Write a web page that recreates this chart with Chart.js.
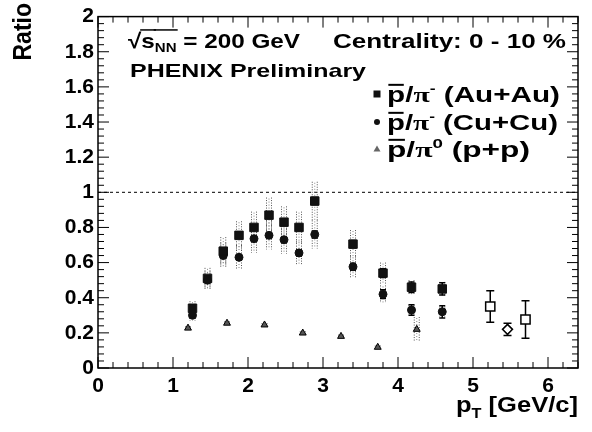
<!DOCTYPE html>
<html>
<head>
<meta charset="utf-8">
<script src="https://cdn.jsdelivr.net/npm/chart.js@4.4.1/dist/chart.umd.min.js"></script>
<style>
  html, body { margin: 0; padding: 0; background: #fff; }
</style>
</head>
<body>
<canvas id="ratioChart" width="592" height="432"></canvas>
<script>
// pbar/pi- Au+Au (filled squares)
const ptAuAu = [1.26, 1.46, 1.67, 1.88, 2.08, 2.28, 2.48, 2.68, 2.89, 3.40, 3.80, 4.18, 4.59];
const ratioAuAu = [0.34, 0.51, 0.665, 0.755, 0.80, 0.87, 0.83, 0.80, 0.95, 0.705, 0.54, 0.46, 0.45];
const statAuAu = [0.015, 0.012, 0.012, 0.012, 0.014, 0.015, 0.016, 0.018, 0.02, 0.02, 0.025, 0.03, 0.035];
const sysAuAu = [0.04, 0.06, 0.08, 0.08, 0.09, 0.10, 0.09, 0.09, 0.11, 0.08, 0.06, 0.04, 0.04];

// pbar/pi- Cu+Cu (filled circles)
const ptCuCu = [1.26, 1.46, 1.67, 1.88, 2.08, 2.28, 2.48, 2.68, 2.89, 3.40, 3.80, 4.18, 4.59];
const ratioCuCu = [0.30, 0.50, 0.64, 0.63, 0.736, 0.755, 0.73, 0.655, 0.76, 0.576, 0.42, 0.33, 0.32];
const statCuCu = [0.015, 0.012, 0.012, 0.012, 0.014, 0.015, 0.016, 0.018, 0.02, 0.02, 0.025, 0.03, 0.035];
const sysCuCu = [0.03, 0.05, 0.07, 0.07, 0.08, 0.08, 0.08, 0.07, 0.08, 0.06, 0.05, 0.03, 0.03];

// pbar/pi0 p+p (triangles)
const ptPP = [1.20, 1.72, 2.22, 2.73, 3.24, 3.73, 4.25];
const ratioPP = [0.227, 0.255, 0.245, 0.199, 0.18, 0.118, 0.22];
const sysPP = [0.01, 0.01, 0.01, 0.01, 0.01, 0.01, 0.07];

// high pT open points
const ptHighAuAu = [5.23, 5.70];
const ratioHighAuAu = [0.35, 0.276];
const errHighAuAu = [0.09, 0.107];
const ptHighCuCu = [5.46];
const ratioHighCuCu = [0.22];
const errHighCuCu = [0.035];

const xTicks = [0, 1, 2, 3, 4, 5, 6];
const yTicks = [0, 0.2, 0.4, 0.6, 0.8, 1, 1.2, 1.4, 1.6, 1.8, 2];

const SANS = "'Liberation Sans', Arial, sans-serif";
const SERIF = "'Liberation Serif', 'Times New Roman', serif";

function points(xs, ys) {
  return xs.map((x, i) => ({ x: x, y: ys[i] }));
}

// draws a run of text pieces, squeezed/stretched to fill a given width
function drawRich(ctx, parts, x, baseline, width, base) {
  ctx.save();
  let natural = 0;
  parts.forEach(p => {
    ctx.font = "bold " + (p.size || base) + "px " + (p.font || SANS);
    p.w = ctx.measureText(p.t).width;
    natural += p.w;
  });
  const sx = width / natural;
  ctx.translate(x, baseline);
  ctx.scale(sx, 1);
  ctx.fillStyle = "#000";
  ctx.strokeStyle = "#000";
  ctx.textBaseline = "alphabetic";
  ctx.textAlign = "left";
  let cx = 0;
  parts.forEach(p => {
    ctx.font = "bold " + (p.size || base) + "px " + (p.font || SANS);
    ctx.fillText(p.t, cx, p.dy || 0);
    if (p.bar) {
      ctx.lineWidth = 2;
      ctx.beginPath();
      ctx.moveTo(cx + 1, -base * 0.78);
      ctx.lineTo(cx + p.w - 1, -base * 0.78);
      ctx.stroke();
    }
    if (p.over) {
      ctx.lineWidth = 1.5;
      ctx.beginPath();
      ctx.moveTo(cx - 1, -base * 0.86);
      ctx.lineTo(cx + p.w + 1, -base * 0.86);
      ctx.stroke();
    }
    cx += p.w;
  });
  ctx.restore();
}

const physicsPlugin = {
  id: "physics",
  beforeDatasetsDraw(chart) {
    const ctx = chart.ctx;
    const xs = chart.scales.x;
    const ys = chart.scales.y;
    const area = chart.chartArea;

    // dashed line at ratio = 1
    ctx.save();
    ctx.strokeStyle = "#000";
    ctx.lineWidth = 1;
    ctx.setLineDash([3, 3]);
    ctx.beginPath();
    ctx.moveTo(area.left, ys.getPixelForValue(1));
    ctx.lineTo(area.right, ys.getPixelForValue(1));
    ctx.stroke();
    ctx.restore();

    // systematic bands (dotted boxes)
    chart.data.datasets.forEach(ds => {
      if (!ds.sys) return;
      ds.data.forEach((p, i) => {
        const px = xs.getPixelForValue(p.x);
        const top = ys.getPixelForValue(p.y + ds.sys[i]);
        const bot = ys.getPixelForValue(p.y - ds.sys[i]);
        ctx.save();
        ctx.strokeStyle = "#555";
        ctx.lineWidth = 1;
        ctx.setLineDash([1, 1.5]);
        ctx.beginPath();
        ctx.moveTo(px - 2.5, top);
        ctx.lineTo(px - 2.5, bot);
        ctx.moveTo(px + 2.5, top);
        ctx.lineTo(px + 2.5, bot);
        ctx.stroke();
        ctx.strokeStyle = "#888";
        ctx.setLineDash([1, 2]);
        ctx.beginPath();
        ctx.moveTo(px, top + 1);
        ctx.lineTo(px, bot);
        ctx.stroke();
        ctx.restore();
      });
    });

    // statistical error bars
    chart.data.datasets.forEach(ds => {
      if (!ds.stat) return;
      const cap = ds.cap || 3;
      ds.data.forEach((p, i) => {
        const px = xs.getPixelForValue(p.x);
        const top = ys.getPixelForValue(p.y + ds.stat[i]);
        const bot = ys.getPixelForValue(p.y - ds.stat[i]);
        ctx.save();
        ctx.strokeStyle = "#000";
        ctx.lineWidth = 1.5;
        ctx.beginPath();
        ctx.moveTo(px, top);
        ctx.lineTo(px, bot);
        ctx.moveTo(px - cap, top);
        ctx.lineTo(px + cap, top);
        ctx.moveTo(px - cap, bot);
        ctx.lineTo(px + cap, bot);
        ctx.stroke();
        ctx.restore();
      });
    });
  },
  afterDraw(chart) {
    const ctx = chart.ctx;
    const xs = chart.scales.x;
    const ys = chart.scales.y;
    const a = chart.chartArea;

    ctx.save();
    ctx.strokeStyle = "#000";
    ctx.lineWidth = 1.5;
    ctx.strokeRect(a.left, a.top, a.right - a.left, a.bottom - a.top);

    // inward ticks on all four sides
    ctx.lineWidth = 1;
    ctx.beginPath();
    for (let i = 0; i * 0.2 <= xs.max + 1e-9; i++) {
      const px = xs.getPixelForValue(i * 0.2);
      const len = i % 5 === 0 ? 11 : 6;
      ctx.moveTo(px, a.bottom);
      ctx.lineTo(px, a.bottom - len);
      ctx.moveTo(px, a.top);
      ctx.lineTo(px, a.top + len);
    }
    for (let i = 0; i <= 50; i++) {
      const py = ys.getPixelForValue(i * 0.04);
      const len = i % 5 === 0 ? 11 : 6;
      ctx.moveTo(a.left, py);
      ctx.lineTo(a.left + len, py);
      ctx.moveTo(a.right, py);
      ctx.lineTo(a.right - len, py);
    }
    ctx.stroke();
    ctx.restore();

    // header text
    drawRich(ctx, [
      { t: "\u221A" },
      { t: "s", over: true },
      { t: "NN", size: 13, dy: 4, over: true },
      { t: " = 200 GeV" }
    ], 128, 48, 172, 21);
    drawRich(ctx, [{ t: "Centrality: 0 - 10 %" }], 333, 48, 233, 21);
    drawRich(ctx, [{ t: "PHENIX Preliminary" }], 130, 77, 236, 19);

    // legend
    const rows = [
      { sup: "-", sys: " (Au+Au)", y: 102, w: 173, marker: "rect" },
      { sup: "-", sys: " (Cu+Cu)", y: 130, w: 171, marker: "circle" },
      { sup: "0", sys: " (p+p)", y: 157, w: 143, marker: "triangle" }
    ];
    rows.forEach(r => {
      drawRich(ctx, [
        { t: "p", bar: true },
        { t: "/" },
        { t: "\u03C0", font: SERIF },
        { t: r.sup, size: 13, dy: -9 },
        { t: r.sys }
      ], 387, r.y, r.w, 22);
      const mx = 377, my = r.y - 8;
      ctx.save();
      ctx.fillStyle = "#111";
      ctx.beginPath();
      if (r.marker === "rect") {
        ctx.rect(mx - 3.5, my - 3.5, 7, 7);
      } else if (r.marker === "circle") {
        ctx.arc(mx, my, 3, 0, Math.PI * 2);
      } else {
        ctx.fillStyle = "#666";
        ctx.moveTo(mx, my - 3.5);
        ctx.lineTo(mx + 3.5, my + 2.5);
        ctx.lineTo(mx - 3.5, my + 2.5);
        ctx.closePath();
      }
      ctx.fill();
      ctx.restore();
    });

    // axis titles
    ctx.save();
    ctx.translate(31, 3);
    ctx.rotate(-Math.PI / 2);
    ctx.scale(1, 1.15);
    ctx.font = "bold 23px " + SANS;
    ctx.textAlign = "right";
    ctx.textBaseline = "alphabetic";
    ctx.fillStyle = "#000";
    ctx.fillText("Ratio", 0, 0);
    ctx.restore();

    drawRich(ctx, [
      { t: "p" },
      { t: "T", size: 14, dy: 6 },
      { t: " [GeV/c]" }
    ], 456, 412, 122, 22);
  }
};

const ctx = document.getElementById("ratioChart").getContext("2d");
new Chart(ctx, {
  type: "scatter",
  data: {
    datasets: [
      {
        label: "pbar/pi- (Au+Au)",
        data: points(ptAuAu, ratioAuAu),
        stat: statAuAu,
        sys: sysAuAu,
        pointStyle: "rect",
        pointRadius: 6,
        backgroundColor: "#111",
        borderColor: "#111",
        borderWidth: 1
      },
      {
        label: "pbar/pi- (Cu+Cu)",
        data: points(ptCuCu, ratioCuCu),
        stat: statCuCu,
        sys: sysCuCu,
        pointStyle: "circle",
        pointRadius: 4,
        backgroundColor: "#111",
        borderColor: "#111",
        borderWidth: 1
      },
      {
        label: "pbar/pi0 (p+p)",
        data: points(ptPP, ratioPP),
        sys: sysPP,
        pointStyle: "triangle",
        pointRadius: 4,
        backgroundColor: "#555",
        borderColor: "#000",
        borderWidth: 1
      },
      {
        label: "high pT Au+Au",
        data: points(ptHighAuAu, ratioHighAuAu),
        stat: errHighAuAu,
        cap: 4,
        pointStyle: "rect",
        pointRadius: 6.5,
        backgroundColor: "#fff",
        borderColor: "#000",
        borderWidth: 1.5
      },
      {
        label: "high pT Cu+Cu",
        data: points(ptHighCuCu, ratioHighCuCu),
        stat: errHighCuCu,
        cap: 4,
        pointStyle: "rectRot",
        pointRadius: 5,
        backgroundColor: "#fff",
        borderColor: "#000",
        borderWidth: 1.5
      }
    ]
  },
  options: {
    responsive: false,
    animation: false,
    events: [],
    layout: { padding: { top: 13, right: 14, left: 0, bottom: 0 } },
    plugins: {
      legend: { display: false },
      tooltip: { enabled: false }
    },
    scales: {
      x: {
        type: "linear",
        min: 0,
        max: 6.4,
        afterBuildTicks: s => { s.ticks = xTicks.map(v => ({ value: v })); },
        afterFit: s => { s.height = 64; },
        grid: { display: false, drawTicks: false },
        border: { display: false },
        ticks: {
          padding: 6,
          maxRotation: 0,
          color: "#000",
          font: { family: SANS, size: 21, weight: "bold" },
          callback: v => String(v)
        }
      },
      y: {
        type: "linear",
        min: 0,
        max: 2,
        afterBuildTicks: s => { s.ticks = yTicks.map(v => ({ value: v })); },
        afterFit: s => { s.width = 98; },
        grid: { display: false, drawTicks: false },
        border: { display: false },
        ticks: {
          padding: 4,
          color: "#000",
          font: { family: SANS, size: 21, weight: "bold" },
          callback: v => String(Number(v.toFixed(1)))
        }
      }
    }
  },
  plugins: [physicsPlugin]
});
</script>
</body>
</html>
